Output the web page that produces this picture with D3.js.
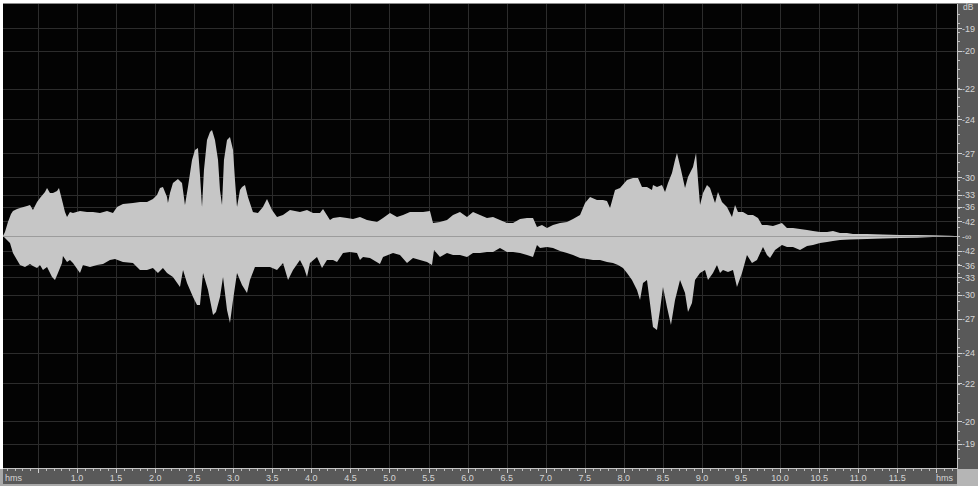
<!DOCTYPE html>
<html><head><meta charset="utf-8">
<script src="https://cdn.jsdelivr.net/npm/d3@7"></script>
<style>html,body{margin:0;padding:0;background:#fff;overflow:hidden}</style>
</head><body><svg id="chart" width="978" height="486"></svg>
<script>
// Peak envelope of the clip: time in seconds, sample amplitude (full scale = 1)
const upperTimes = [0.052,0.078,0.116,0.155,0.180,0.232,0.270,0.360,0.398,0.436,0.488,0.526,0.590,0.616,0.654,0.692,0.744,0.769,0.808,0.846,0.872,0.910,0.948,1.038,1.128,1.204,1.294,1.384,1.460,1.512,1.588,1.716,1.806,1.896,1.972,2.024,2.062,2.100,2.152,2.164,2.190,2.228,2.292,2.344,2.382,2.420,2.472,2.510,2.548,2.574,2.600,2.625,2.664,2.702,2.728,2.766,2.805,2.830,2.856,2.881,2.920,2.958,2.997,3.022,3.048,3.086,3.112,3.150,3.188,3.252,3.316,3.380,3.432,3.496,3.560,3.636,3.726,3.854,3.944,4.021,4.110,4.149,4.238,4.277,4.366,4.456,4.533,4.622,4.712,4.840,4.917,5.006,5.096,5.173,5.262,5.352,5.429,5.518,5.557,5.646,5.736,5.813,5.902,5.992,6.069,6.158,6.248,6.325,6.414,6.504,6.581,6.671,6.760,6.837,6.888,6.952,7.016,7.093,7.183,7.272,7.349,7.439,7.503,7.567,7.656,7.733,7.784,7.823,7.887,7.951,8.040,8.117,8.181,8.232,8.296,8.360,8.373,8.424,8.488,8.527,8.565,8.616,8.655,8.680,8.732,8.783,8.821,8.885,8.924,8.949,8.975,9.013,9.064,9.103,9.167,9.205,9.256,9.320,9.384,9.423,9.461,9.525,9.589,9.653,9.717,9.768,9.832,9.909,10.024,10.088,10.165,10.255,10.345,10.421,10.511,10.601,10.677,10.767,10.856,10.933,11.112,11.317,11.535,11.753,11.957,12.175,12.239];
const upperPeaks = [0,0.0022,0.0076,0.0119,0.0135,0.0146,0.0151,0.0162,0.0167,0.0140,0.0183,0.0205,0.0237,0.0259,0.0232,0.0232,0.0243,0.0259,0.0194,0.0129,0.0103,0.0129,0.0124,0.0135,0.0129,0.0129,0.0124,0.0135,0.0124,0.0156,0.0173,0.0178,0.0183,0.0183,0.0200,0.0221,0.0259,0.0264,0.0210,0.0178,0.0232,0.0286,0.0308,0.0286,0.0167,0.0264,0.0410,0.0464,0.0475,0.0329,0.0156,0.0356,0.0518,0.0561,0.0572,0.0518,0.0410,0.0248,0.0167,0.0410,0.0518,0.0534,0.0464,0.0302,0.0156,0.0248,0.0264,0.0275,0.0210,0.0129,0.0124,0.0156,0.0200,0.0140,0.0103,0.0113,0.0140,0.0129,0.0140,0.0124,0.0124,0.0146,0.0086,0.0097,0.0103,0.0097,0.0092,0.0103,0.0086,0.0076,0.0097,0.0124,0.0103,0.0113,0.0129,0.0129,0.0129,0.0135,0.0070,0.0076,0.0086,0.0113,0.0129,0.0103,0.0129,0.0113,0.0097,0.0103,0.0086,0.0070,0.0070,0.0092,0.0097,0.0097,0.0049,0.0059,0.0043,0.0059,0.0070,0.0076,0.0092,0.0113,0.0178,0.0210,0.0194,0.0194,0.0189,0.0151,0.0248,0.0259,0.0302,0.0313,0.0313,0.0264,0.0264,0.0248,0.0275,0.0264,0.0275,0.0237,0.0286,0.0340,0.0410,0.0448,0.0356,0.0259,0.0318,0.0372,0.0448,0.0302,0.0167,0.0232,0.0275,0.0259,0.0178,0.0237,0.0183,0.0156,0.0103,0.0167,0.0129,0.0129,0.0113,0.0113,0.0097,0.0059,0.0059,0.0054,0.0070,0.0043,0.0043,0.0038,0.0032,0.0027,0.0022,0.0022,0.0027,0.0016,0.0016,0.0011,0.0011,0.0008,0.0005,0.0005,0.0004,0.0002,0];
const lowerTimes = [0.052,0.078,0.142,0.180,0.232,0.270,0.334,0.398,0.436,0.488,0.526,0.564,0.616,0.680,0.718,0.756,0.808,0.820,0.872,0.910,0.948,1.038,1.076,1.166,1.256,1.333,1.422,1.486,1.588,1.716,1.806,1.896,1.972,2.036,2.100,2.152,2.228,2.318,2.357,2.408,2.485,2.536,2.574,2.613,2.677,2.741,2.779,2.830,2.869,2.920,2.958,2.997,3.048,3.112,3.176,3.214,3.278,3.380,3.470,3.560,3.637,3.701,3.765,3.854,3.906,3.944,3.982,4.072,4.136,4.200,4.277,4.328,4.405,4.494,4.584,4.622,4.661,4.750,4.878,4.917,5.045,5.134,5.224,5.301,5.390,5.480,5.544,5.570,5.646,5.736,5.813,5.902,5.992,6.069,6.158,6.248,6.325,6.414,6.504,6.581,6.671,6.760,6.837,6.888,6.927,7.016,7.093,7.183,7.272,7.349,7.439,7.528,7.605,7.695,7.784,7.861,7.925,7.989,8.040,8.104,8.168,8.207,8.245,8.296,8.334,8.373,8.424,8.463,8.501,8.552,8.603,8.655,8.719,8.783,8.821,8.872,8.911,8.975,9.039,9.077,9.141,9.192,9.231,9.269,9.333,9.397,9.448,9.512,9.576,9.640,9.704,9.781,9.832,9.871,9.935,10.024,10.088,10.165,10.255,10.345,10.421,10.511,10.601,10.677,10.767,10.895,11.112,11.317,11.535,11.753,11.957,12.175,12.239];
const lowerPeaks = [0,-0.0011,-0.0038,-0.0092,-0.0129,-0.0156,-0.0167,-0.0151,-0.0162,-0.0173,-0.0156,-0.0183,-0.0167,-0.0221,-0.0237,-0.0200,-0.0146,-0.0108,-0.0140,-0.0129,-0.0146,-0.0200,-0.0156,-0.0167,-0.0156,-0.0151,-0.0129,-0.0124,-0.0140,-0.0146,-0.0183,-0.0183,-0.0173,-0.0200,-0.0173,-0.0200,-0.0221,-0.0275,-0.0183,-0.0254,-0.0329,-0.0372,-0.0372,-0.0200,-0.0291,-0.0426,-0.0410,-0.0329,-0.0221,-0.0399,-0.0469,-0.0345,-0.0200,-0.0264,-0.0308,-0.0237,-0.0167,-0.0167,-0.0167,-0.0183,-0.0146,-0.0237,-0.0183,-0.0129,-0.0173,-0.0221,-0.0146,-0.0113,-0.0173,-0.0129,-0.0129,-0.0140,-0.0092,-0.0086,-0.0092,-0.0129,-0.0113,-0.0119,-0.0151,-0.0113,-0.0092,-0.0103,-0.0146,-0.0119,-0.0129,-0.0140,-0.0156,-0.0076,-0.0113,-0.0092,-0.0103,-0.0103,-0.0113,-0.0092,-0.0092,-0.0086,-0.0086,-0.0065,-0.0086,-0.0086,-0.0092,-0.0103,-0.0113,-0.0049,-0.0065,-0.0059,-0.0065,-0.0081,-0.0092,-0.0103,-0.0119,-0.0124,-0.0129,-0.0129,-0.0140,-0.0146,-0.0156,-0.0173,-0.0200,-0.0237,-0.0291,-0.0345,-0.0254,-0.0237,-0.0361,-0.0491,-0.0507,-0.0399,-0.0275,-0.0383,-0.0480,-0.0345,-0.0237,-0.0308,-0.0410,-0.0361,-0.0237,-0.0200,-0.0183,-0.0237,-0.0200,-0.0156,-0.0200,-0.0183,-0.0194,-0.0183,-0.0275,-0.0200,-0.0103,-0.0146,-0.0129,-0.0059,-0.0103,-0.0119,-0.0076,-0.0049,-0.0059,-0.0059,-0.0076,-0.0054,-0.0049,-0.0038,-0.0032,-0.0027,-0.0022,-0.0019,-0.0016,-0.0013,-0.0011,-0.0009,-0.0005,-0.0003,0];

// Time ruler (seconds)
const timeGrid = [0.5,1.0,1.5,2.0,2.5,3.0,3.5,4.0,4.5,5.0,5.5,6.0,6.5,7.0,7.5,8.0,8.5,9.0,9.5,10.0,10.5,11.0,11.5,12.0];
const timeTicks = [1.0,1.5,2.0,2.5,3.0,3.5,4.0,4.5,5.0,5.5,6.0,6.5,7.0,7.5,8.0,8.5,9.0,9.5,10.0,10.5,11.0,11.5];
const timeTickLabels = ["1.0","1.5","2.0","2.5","3.0","3.5","4.0","4.5","5.0","5.5","6.0","6.5","7.0","7.5","8.0","8.5","9.0","9.5","10.0","10.5","11.0","11.5"];
const timeUnit = "hms";
// Level ruler (dB), mirrored above and below the centre line
const dbTicks = [-19,-20,-22,-24,-27,-30,-33,-36,-42];
const dbTickLabels = ["-19","-20","-22","-24","-27","-30","-33","-36","-42"];
const dbUnit = "dB";
const silenceLabel = "-\u221e";

// Visible window and vertical zoom
const viewStart = 0.0525, viewEnd = 12.2645;
const peakRange = 0.1257;

const W = 978, H = 486;
const plot = {left: 3, right: 957, top: 3, bottom: 469};
const svg = d3.select("#chart");

const x = d3.scaleLinear().domain([viewStart, viewEnd]).range([plot.left, plot.right]);
const y = d3.scaleLinear().domain([-peakRange, peakRange]).range([plot.bottom, plot.top]);
const amp = db => Math.pow(10, db / 20);

svg.append("rect").attr("width", W).attr("height", H).attr("fill", "#ffffff");
svg.append("rect").attr("x", plot.left).attr("y", plot.top)
  .attr("width", plot.right - plot.left).attr("height", plot.bottom - plot.top).attr("fill", "#030303");

// grid
const grid = svg.append("g").attr("stroke", "#2c2c2c").attr("stroke-width", 1).attr("shape-rendering", "crispEdges");
grid.selectAll(".gv").data(timeGrid).join("line")
  .attr("x1", d => Math.round(x(d)) + 0.5).attr("x2", d => Math.round(x(d)) + 0.5)
  .attr("y1", plot.top).attr("y2", plot.bottom);
const levelLines = dbTicks.flatMap(d => [amp(d), -amp(d)]);
grid.selectAll(".gh").data(levelLines).join("line")
  .attr("x1", plot.left).attr("x2", plot.right)
  .attr("y1", d => Math.round(y(d)) + 0.5).attr("y2", d => Math.round(y(d)) + 0.5);

// waveform
const upper = upperTimes.map((t, i) => ({t, v: upperPeaks[i]}));
const lower = lowerTimes.map((t, i) => ({t, v: lowerPeaks[i]}));
const area = d3.area().x(d => x(d.t)).y0(y(0)).y1(d => y(d.v));
svg.append("path").datum(upper).attr("d", area).attr("fill", "#c6c6c6");
svg.append("path").datum(lower).attr("d", area).attr("fill", "#c6c6c6");

// centre line
svg.append("line").attr("x1", plot.left).attr("x2", plot.right)
  .attr("y1", Math.round(y(0)) + 0.5).attr("y2", Math.round(y(0)) + 0.5)
  .attr("stroke", "#9c9c9c").attr("shape-rendering", "crispEdges");

// top edge
svg.append("line").attr("x1", plot.left).attr("x2", W).attr("y1", plot.top + 0.5).attr("y2", plot.top + 0.5)
  .attr("stroke", "#8c8c8c").attr("shape-rendering", "crispEdges");

// level ruler
const right = svg.append("g");
right.append("rect").attr("x", plot.right).attr("y", plot.top + 1)
  .attr("width", W - plot.right).attr("height", plot.bottom - plot.top - 1).attr("fill", "#595959");
right.append("line").attr("x1", plot.right + 0.5).attr("x2", plot.right + 0.5)
  .attr("y1", plot.top + 1).attr("y2", plot.bottom).attr("stroke", "#c4c4c4").attr("shape-rendering", "crispEdges");
const minorLevels = d3.range(-0.12, 0.1201, 0.005);
right.selectAll(".mt").data(minorLevels).join("line")
  .attr("x1", plot.right + 1).attr("x2", plot.right + 3)
  .attr("y1", d => Math.round(y(d)) + 0.5).attr("y2", d => Math.round(y(d)) + 0.5)
  .attr("stroke", "#bdbdbd").attr("shape-rendering", "crispEdges");
right.selectAll(".Mt").data(levelLines).join("line")
  .attr("x1", plot.right + 1).attr("x2", plot.right + 5)
  .attr("y1", d => Math.round(y(d)) + 0.5).attr("y2", d => Math.round(y(d)) + 0.5)
  .attr("stroke", "#d0d0d0").attr("shape-rendering", "crispEdges");
const levelText = dbTicks.flatMap((d, i) => [{v: amp(d), s: dbTickLabels[i]}, {v: -amp(d), s: dbTickLabels[i]}]);
levelText.push({v: 0, s: silenceLabel});
right.selectAll("text.lv").data(levelText).join("text")
  .attr("x", plot.right + 5).attr("y", d => y(d.v) + 3.5)
  .attr("font-family", "Liberation Sans, Arial, sans-serif").attr("font-size", 9)
  .attr("fill", "#d4d4d4").text(d => d.s);
right.append("text").attr("x", plot.right + 6).attr("y", plot.top + 7)
  .attr("font-family", "Liberation Sans, Arial, sans-serif").attr("font-size", 8.5)
  .attr("fill", "#d4d4d4").text(dbUnit);

// time ruler
const bottom = svg.append("g");
bottom.append("rect").attr("x", 0).attr("y", plot.bottom)
  .attr("width", plot.right).attr("height", H - plot.bottom).attr("fill", "#a9a9a9");
bottom.append("rect").attr("x", plot.left).attr("y", plot.bottom)
  .attr("width", plot.right - plot.left).attr("height", 15).attr("fill", "#595959");
bottom.append("line").attr("x1", plot.left).attr("x2", plot.right)
  .attr("y1", plot.bottom - 0.5).attr("y2", plot.bottom - 0.5)
  .attr("stroke", "#c4c4c4").attr("shape-rendering", "crispEdges");
const minorTimes = d3.range(0.1, viewEnd, 0.1);
bottom.selectAll(".mt").data(minorTimes).join("line")
  .attr("x1", d => Math.round(x(d)) + 0.5).attr("x2", d => Math.round(x(d)) + 0.5)
  .attr("y1", plot.bottom).attr("y2", plot.bottom + 2)
  .attr("stroke", "#bdbdbd").attr("shape-rendering", "crispEdges");
bottom.selectAll(".Mt").data(timeGrid).join("line")
  .attr("x1", d => Math.round(x(d)) + 0.5).attr("x2", d => Math.round(x(d)) + 0.5)
  .attr("y1", plot.bottom).attr("y2", plot.bottom + 4)
  .attr("stroke", "#d0d0d0").attr("shape-rendering", "crispEdges");
bottom.selectAll("text.tl").data(timeTicks).join("text")
  .attr("x", d => x(d)).attr("y", plot.bottom + 12).attr("text-anchor", "middle")
  .attr("font-family", "Liberation Sans, Arial, sans-serif").attr("font-size", 9)
  .attr("fill", "#d4d4d4").text((d, i) => timeTickLabels[i]);
bottom.append("text").attr("x", plot.left + 2).attr("y", plot.bottom + 12)
  .attr("font-family", "Liberation Sans, Arial, sans-serif").attr("font-size", 9)
  .attr("fill", "#d4d4d4").text(timeUnit);
bottom.append("text").attr("x", plot.right - 4).attr("y", plot.bottom + 12).attr("text-anchor", "end")
  .attr("font-family", "Liberation Sans, Arial, sans-serif").attr("font-size", 9)
  .attr("fill", "#d4d4d4").text(timeUnit);

// corner block
svg.append("rect").attr("x", plot.right).attr("y", plot.bottom)
  .attr("width", W - plot.right).attr("height", H - plot.bottom).attr("fill", "#b5b5b5");
</script></body></html>
